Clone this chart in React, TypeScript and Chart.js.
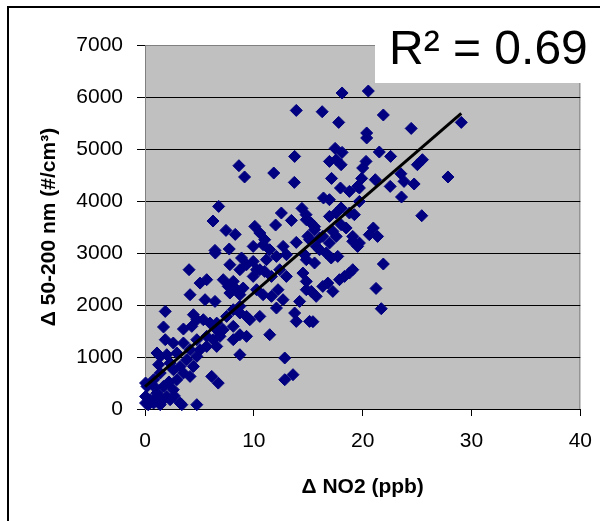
import React, { useEffect, useRef } from 'react';
import { Chart, registerables } from 'chart.js';

Chart.register(...registerables);

// ---- data ----
const xTitle = 'Δ NO2 (ppb)';
const yTitle = 'Δ 50-200 nm (#/cm³)';
const rSquaredLabel = 'R² = 0.69';
const xTickValues = [0, 10, 20, 30, 40];
const yTickValues = [0, 1000, 2000, 3000, 4000, 5000, 6000, 7000];

const deltaNO2 = [
  13.9, 13.75, 8.63, 9.15, 11.83, 13.72, 6.77, 6.25, 7.44, 8.29, 10.09, 10.55, 11.0, 12.0, 12.53, 13.45, 14.42, 13.9, 6.43, 7.74, 9.94, 10.85, 14.82,
  18.11, 20.52, 16.28, 17.8, 21.9, 29.06, 24.46, 20.37, 20.37, 17.47, 18.11, 21.53, 22.57, 16.95, 17.57, 18.02, 20.31, 20.0, 25.49, 25.03, 27.84,
  17.14, 19.91, 19.54, 21.16, 23.51, 23.8, 24.73, 22.53, 17.96, 18.78, 19.7, 23.57, 16.4, 16.95, 19.7, 14.8, 15.26, 16.95, 17.57, 18.02, 18.78,
  19.24, 25.43, 15.58, 16.04, 15.12, 18.02, 18.48, 17.26, 17.57, 16.95, 19.09, 19.7, 20.98, 21.37, 20.61,
  6.46, 8.87, 11.46, 12.08, 13.0, 14.67, 4.05, 7.8, 8.72, 9.33, 9.94, 10.25, 11.0, 5.06, 5.67, 7.19, 7.65, 8.11, 8.42, 9.02, 7.8, 8.72, 4.14,
  5.52, 6.43, 9.94, 10.55, 11.62, 12.38, 12.99, 14.51, 14.82, 10.25, 10.85, 11.62, 12.22, 12.68, 14.21, 14.82, 1.86, 1.7, 1.86, 3.53, 4.45,
  5.36, 5.97, 6.59, 7.19, 8.11, 8.72, 9.63, 10.55, 11.46, 12.08, 8.72, 13.75, 13.9, 15.12, 8.72, 12.84, 12.84, 13.6, 6.13, 6.73, 1.1, 2.0,
  1.25, 2.31, 0.18, 0.05, 0.48, 1.1, 1.7, 2.0, 2.6, 3.23, 4.76, 2.93, 3.53, 4.14, 3.23, 3.84, 4.45, 4.76, 5.06, 5.67, 6.28, 4.14, 3.53, 2.93,
  1.4, 0.79, 2.6, 6.89, 5.67, 4.76, 6.59, 8.11, 9.33, 7.5, 8.11, 8.72, 9.33, 6.59, 4.3, 4.76, 2.6, 1.4, 0.05, 0.05, 0.79, 1.4, 2.31, 3.38,
  21.9, 21.23, 21.71, 15.43, 15.28, 15.73, 16.34, 16.8, 17.26, 17.87, 18.33, 18.78, 19.09, 17.71, 15.58, 16.65, 17.11, 16.04, 19.54, 19.09,
  15.58, 14.97, 16.34, 15.73, 11.16, 12.69, 14.82, 0.9, 1.6, 2.2, 1.2, 0.3, 2.7,
];

const delta50to200 = [
  5742, 4857, 4679, 4462, 4538, 4358, 3896, 3615, 3435, 3358, 3512, 3385, 3256, 3538, 3769, 3627, 3858, 3204, 3050, 3077, 3127, 3160, 3640,
  6077, 6115, 5717, 5512, 5654, 5512, 5396, 5308, 5212, 5012, 4935, 4942, 4858, 4762, 4794, 4698, 4762, 4635, 4794, 4698, 4462,
  4435, 4435, 4281, 4410, 4525, 4377, 4327, 4281, 4250, 4185, 4250, 4077, 4058, 4025, 3992, 3737, 3577, 3704, 3769, 3865, 3769,
  3737, 3717, 3448, 3288, 3256, 3544, 3481, 3416, 3319, 3192, 3319, 3192, 3481, 3319, 3352,
  3000, 2904, 3063, 2935, 2967, 2967, 2679, 2775, 2679, 2775, 2838, 2679, 2646, 2421, 2487, 2487, 2358, 2454, 2294, 2326, 2230, 2198, 2198,
  2102, 2069, 2550, 2679, 2550, 2679, 2550, 2614, 2454, 2294, 2198, 2166, 2294, 2102, 2069, 2294, 1877, 1577, 1333, 1538, 1813,
  1717, 1652, 1652, 1525, 1589, 1429, 1717, 1781, 1429, 1942, 1846, 1846, 1685, 1685, 1044, 981, 563, 660, 627, 498, 1077, 1044,
  852, 883, 435, 242, 179, 306, 435, 242, 371, 115, 83, 563, 692, 627, 819, 948, 819, 1012, 1140, 1204, 1333, 1140, 1269, 1077,
  692, 563, 756, 1397, 1397, 1333, 1204, 1333, 1397, 1781, 1910, 1974, 1781, 1525, 1589, 1717, 1269, 1012, 500, 115, 115, 83, 179, 83,
  2788, 2319, 1929, 1679, 2262, 2166, 2358, 2421, 2262, 2487, 2550, 2614, 2679, 2935, 2808, 3000, 2904, 3063, 3127, 3224,
  3506, 3320, 3320, 3127, 2871, 3127, 2871, 420, 160, 520, 250, 80, 250,
];

const trendX = [0, 29.06];
const trendY = [430, 5687];

const FONT = "'Liberation Sans', Arial, sans-serif";

const plotBackground = {
  id: 'plotBackground',
  beforeDraw(chart: any) {
    const { ctx, chartArea: a } = chart;
    ctx.save();
    ctx.fillStyle = '#c0c0c0';
    ctx.fillRect(a.left, a.top, a.right - a.left, a.bottom - a.top);
    ctx.strokeStyle = '#808080';
    ctx.lineWidth = 1;
    ctx.beginPath();
    ctx.moveTo(a.left, a.top + 0.5);
    ctx.lineTo(a.right - 0.5, a.top + 0.5);
    ctx.lineTo(a.right - 0.5, a.bottom);
    ctx.stroke();
    ctx.restore();
  },
  afterDatasetsDraw(chart: any) {
    const { ctx } = chart;
    ctx.save();
    ctx.fillStyle = '#ffffff';
    ctx.fillRect(375, 8, 240, 75);
    ctx.fillStyle = '#000';
    ctx.font = `48px ${FONT}`;
    ctx.textAlign = 'left';
    ctx.textBaseline = 'alphabetic';
    ctx.fillText(rSquaredLabel, 389, 64);
    ctx.restore();
  },
  afterDraw(chart: any) {
    const { ctx } = chart;
    ctx.save();
    ctx.strokeStyle = '#000';
    ctx.lineWidth = 2;
    ctx.beginPath();
    ctx.moveTo(8, 522);
    ctx.lineTo(8, 7);
    ctx.lineTo(600, 7);
    ctx.stroke();
    ctx.restore();
  },
};

export default function App() {
  const ref = useRef<HTMLCanvasElement>(null);
  useEffect(() => {
    if (!ref.current) return;
    const points = deltaNO2.map((x, i) => ({ x, y: delta50to200[i] }));
    const trend = trendX.map((x, i) => ({ x, y: trendY[i] }));
    const chart = new Chart(ref.current, {
      type: 'scatter',
      data: {
        datasets: [
          {
            type: 'line',
            data: trend,
            borderColor: '#000',
            borderWidth: 3,
            pointRadius: 0,
            fill: false,
            clip: false,
            order: 0,
          } as any,
          {
            data: points,
            pointStyle: 'rectRot',
            pointRadius: 6,
            pointBackgroundColor: '#000080',
            pointBorderColor: '#000080',
            pointBorderWidth: 1,
            clip: false,
            order: 1,
          } as any,
        ],
      },
      options: {
        responsive: false,
        animation: false,
        events: [],
        layout: { padding: { left: 0, right: 23, top: 45, bottom: 0 } },
        plugins: { legend: { display: false }, tooltip: { enabled: false } },
        scales: {
          x: {
            type: 'linear',
            position: 'bottom',
            min: 0,
            max: 40,
            afterFit: (s: any) => { s.height = 112; },
            afterBuildTicks: (s: any) => { s.ticks = xTickValues.map((v) => ({ value: v })); },
            ticks: { color: '#000', font: { family: FONT, size: 21 }, padding: 13, maxRotation: 0, callback: (v: any) => String(v) },
            grid: { drawOnChartArea: false, drawTicks: true, tickLength: 7, color: '#000', tickColor: '#000' },
            border: { display: true, color: '#000', width: 1 },
            title: {
              display: true,
              text: xTitle,
              color: '#000',
              font: { family: FONT, size: 21, weight: 'bold' },
              padding: { top: 0, bottom: 21 },
            },
          },
          y: {
            type: 'linear',
            min: 0,
            max: 7000,
            afterFit: (s: any) => { s.width = 145; },
            afterBuildTicks: (s: any) => { s.ticks = yTickValues.map((v) => ({ value: v })); },
            ticks: { color: '#000', font: { family: FONT, size: 21 }, padding: 14, callback: (v: any) => String(v) },
            grid: {
              drawTicks: true,
              tickLength: 8,
              tickColor: '#000',
              color: (c: any) => (c.tick && c.tick.value === 7000 ? 'rgba(0,0,0,0)' : '#000'),
            },
            border: { display: true, color: '#808080', width: 1 },
            title: {
              display: true,
              text: yTitle,
              color: '#000',
              font: { family: FONT, size: 21, weight: 'bold' },
              padding: { top: 37, bottom: 0 },
            },
          },
        },
      },
      plugins: [plotBackground],
    });
    return () => chart.destroy();
  }, []);
  return (
    <div style={{ position: 'fixed', left: 0, top: 0, width: 605, height: 521, background: '#fff' }}>
      <canvas ref={ref} width={605} height={521} style={{ display: 'block', width: 605, height: 521 }} />
    </div>
  );
}
